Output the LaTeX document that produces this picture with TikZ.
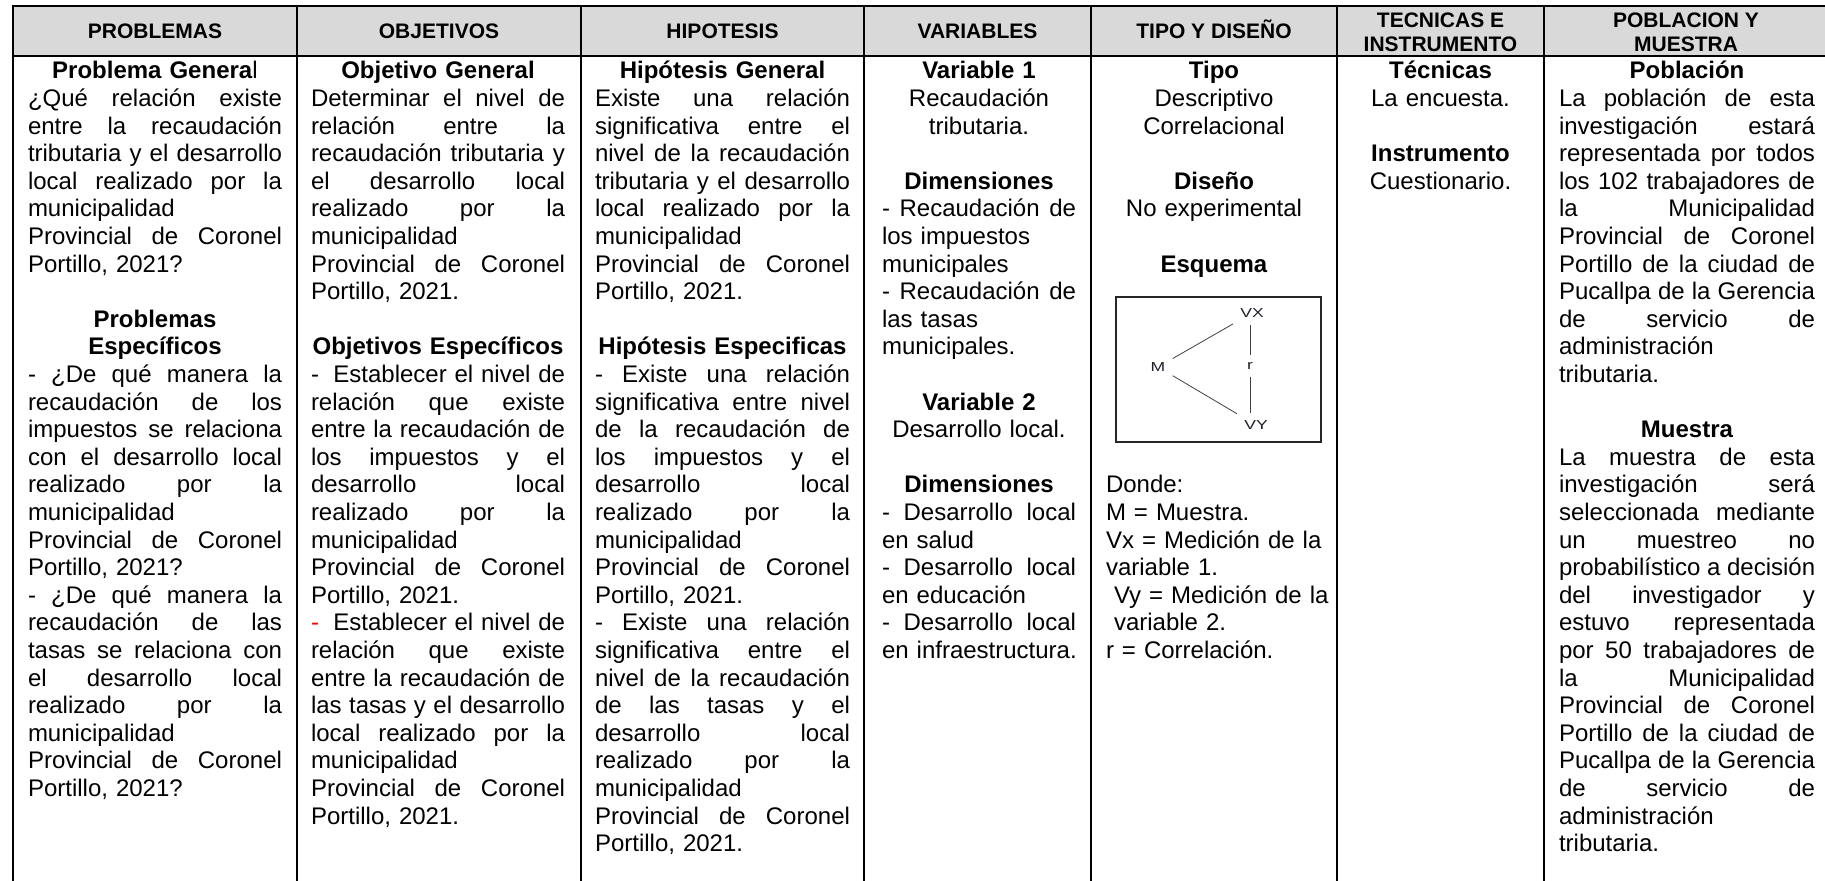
\documentclass[tikz,border=0pt]{standalone}
\usepackage{fontspec}
\setmainfont{Liberation Sans}
\newfontfamily\schemfont{Liberation Sans}[FakeStretch=1.35]
\definecolor{hdrgray}{RGB}{217,217,217}
\definecolor{labcol}{RGB}{30,30,40}
\newcommand\tstr{\rule[-2.3pt]{0pt}{13.8pt}}
\newcommand\Jl[1]{\noindent\hbox to\hsize{\spaceskip=0.2779em plus 1fil\relax\tstr#1}\par}
\newcommand\Ll[1]{\noindent\hbox to\hsize{\tstr#1\hss}\par}
\newcommand\Cl[1]{\noindent\hbox to\hsize{\hss\tstr#1\hss}\par}
\newcommand\Bl{\noindent\hbox to\hsize{\tstr\hss}\par}
\newcommand\bodyfont{\fontsize{12}{13.8}\selectfont\frenchspacing\lineskiplimit=-6pt\hbadness=10000\hfuzz=3pt}
\newcommand\hdrfont{\fontsize{10.5}{12.1}\selectfont\bfseries}
\tikzset{
  tbl/.style={line width=0.8pt, black},
  colbox/.style={anchor=north west, inner sep=0pt, outer sep=0pt, text width=#1, font=\bodyfont},
  hdr/.style={inner sep=0pt, font=\hdrfont},
  hdrtwo/.style={inner sep=0pt, font=\hdrfont, align=center, anchor=center},
  lab/.style={inner sep=3.5pt, text=labcol, font=\schemfont\fontsize{6.5}{7}\selectfont},
  link/.style={line width=0.4pt, black!75},
  esqbox/.style={draw, line width=0.8pt, black!85, minimum width=102.5pt, minimum height=72.5pt, inner sep=0pt}
}
\begin{document}
\begin{tikzpicture}[x=0.5pt, y=-0.5pt]
\useasboundingbox (0,0) rectangle (1825,881);
% header band
\fill[hdrgray] (13,6) rectangle (1835,56);
\draw[tbl] (1835,6) -- (13,6) -- (13,895);
\draw[tbl] (13,56) -- (1835,56);
\foreach \xx in {297,581,864,1091,1337,1544} {\draw[tbl] (\xx,6) -- (\xx,895);}
% header labels
\node[hdr, anchor=base] (h1) at (155,38.5) {PROBLEMAS};
\node[hdr, anchor=base] (h2) at (439,38.5) {OBJETIVOS};
\node[hdr, anchor=base] (h3) at (722.5,38.5) {HIPOTESIS};
\node[hdr, anchor=base] (h4) at (977.5,38.5) {VARIABLES};
\node[hdr, anchor=base] (h5) at (1214,38.5) {TIPO Y DISEÑO};
\node[hdrtwo] (h6) at (1440.5,32.6) {TECNICAS E\\INSTRUMENTO};
\node[hdrtwo] (h7) at (1686,32.6) {POBLACION Y\\MUESTRA};
% column 1
\node[colbox=127pt] (c1) at (28,56) {%
\Cl{\textbf{Problema Genera}l}
\Jl{¿Qué relación existe}
\Jl{entre la recaudación}
\Jl{tributaria y el desarrollo}
\Jl{local realizado por la}
\Ll{municipalidad}
\Jl{Provincial de Coronel}
\Ll{Portillo, 2021?}
\Bl
\Cl{\textbf{Problemas}}
\Cl{\textbf{Específicos}}
\Jl{- ¿De qué manera la}
\Jl{recaudación de los}
\Jl{impuestos se relaciona}
\Jl{con el desarrollo local}
\Jl{realizado por la}
\Ll{municipalidad}
\Jl{Provincial de Coronel}
\Ll{Portillo, 2021?}
\Jl{- ¿De qué manera la}
\Jl{recaudación de las}
\Jl{tasas se relaciona con}
\Jl{el desarrollo local}
\Jl{realizado por la}
\Ll{municipalidad}
\Jl{Provincial de Coronel}
\Ll{Portillo, 2021?}};
% column 2
\node[colbox=127pt] (c2) at (311,56) {%
\Cl{\textbf{Objetivo General}}
\Jl{Determinar el nivel de}
\Jl{relación entre la}
\Jl{recaudación tributaria y}
\Jl{el desarrollo local}
\Jl{realizado por la}
\Ll{municipalidad}
\Jl{Provincial de Coronel}
\Ll{Portillo, 2021.}
\Bl
\Cl{\textbf{Objetivos Específicos}}
\Jl{-\hspace{0.6em}Establecer el nivel de}
\Jl{relación que existe}
\Jl{entre la recaudación de}
\Jl{los impuestos y el}
\Jl{desarrollo local}
\Jl{realizado por la}
\Ll{municipalidad}
\Jl{Provincial de Coronel}
\Ll{Portillo, 2021.}
\Jl{\textcolor{red}{-}\hspace{0.6em}Establecer el nivel de}
\Jl{relación que existe}
\Jl{entre la recaudación de}
\Jl{las tasas y el desarrollo}
\Jl{local realizado por la}
\Ll{municipalidad}
\Jl{Provincial de Coronel}
\Ll{Portillo, 2021.}};
% column 3
\node[colbox=127.5pt] (c3) at (595,56) {%
\Cl{\textbf{Hipótesis General}}
\Jl{Existe una relación}
\Jl{significativa entre el}
\Jl{nivel de la recaudación}
\Jl{tributaria y el desarrollo}
\Jl{local realizado por la}
\Ll{municipalidad}
\Jl{Provincial de Coronel}
\Ll{Portillo, 2021.}
\Bl
\Cl{\textbf{Hipótesis Especificas}}
\Jl{- Existe una relación}
\Jl{significativa entre nivel}
\Jl{de la recaudación de}
\Jl{los impuestos y el}
\Jl{desarrollo local}
\Jl{realizado por la}
\Ll{municipalidad}
\Jl{Provincial de Coronel}
\Ll{Portillo, 2021.}
\Jl{- Existe una relación}
\Jl{significativa entre el}
\Jl{nivel de la recaudación}
\Jl{de las tasas y el}
\Jl{desarrollo local}
\Jl{realizado por la}
\Ll{municipalidad}
\Jl{Provincial de Coronel}
\Ll{Portillo, 2021.}};
% column 4
\node[colbox=97pt] (c4) at (882,56) {%
\Cl{\textbf{Variable 1}}
\Cl{Recaudación}
\Cl{tributaria.}
\Bl
\Cl{\textbf{Dimensiones}}
\Jl{- Recaudación de}
\Ll{los impuestos}
\Ll{municipales}
\Jl{- Recaudación de}
\Ll{las tasas}
\Ll{municipales.}
\Bl
\Cl{\textbf{Variable 2}}
\Cl{Desarrollo local.}
\Bl
\Cl{\textbf{Dimensiones}}
\Jl{- Desarrollo local}
\Ll{en salud}
\Jl{- Desarrollo local}
\Ll{en educación}
\Jl{- Desarrollo local}
\Ll{en infraestructura.}};
% column 5
\node[colbox=108pt] (c5a) at (1106,56) {%
\Cl{\textbf{Tipo}}
\Cl{Descriptivo}
\Cl{Correlacional}
\Bl
\Cl{\textbf{Diseño}}
\Cl{No experimental}
\Bl
\Cl{\textbf{Esquema}}};
\node[colbox=108pt] (c5b) at (1106,470) {%
\Ll{Donde:}
\Ll{M = Muestra.}
\Ll{Vx = Medición de la}
\Ll{variable 1.}
\Ll{\ Vy = Medición de la}
\Ll{\ variable 2.}
\Ll{r = Correlación.}};
% esquema
\node[esqbox] (esq) at (1218.5,369.5) {};
\node[lab] (M) at (1158,367) {M};
\node[lab] (VX) at (1252,313) {VX};
\node[lab] (r) at (1250,366) {r};
\node[lab] (VY) at (1256,425) {VY};
\draw[link] (M) -- (VX);
\draw[link] (M) -- (VY);
\draw[link] (r.north) -- (r.north |- VX.south);
\draw[link] (r.south) -- (r.south |- VY.north);
% column 6
\node[colbox=90pt] (c6) at (1350.5,56) {%
\Cl{\textbf{Técnicas}}
\Cl{La encuesta.}
\Bl
\Cl{\textbf{Instrumento}}
\Cl{Cuestionario.}};
% column 7
\node[colbox=128pt] (c7) at (1559,56) {%
\Cl{\textbf{Población}}
\Jl{La población de esta}
\Jl{investigación estará}
\Jl{representada por todos}
\Jl{los 102 trabajadores de}
\Jl{la Municipalidad}
\Jl{Provincial de Coronel}
\Jl{Portillo de la ciudad de}
\Jl{Pucallpa de la Gerencia}
\Jl{de servicio de}
\Ll{administración}
\Ll{tributaria.}
\Bl
\Cl{\textbf{Muestra}}
\Jl{La muestra de esta}
\Jl{investigación será}
\Jl{seleccionada mediante}
\Jl{un muestreo no}
\Jl{probabilístico a decisión}
\Jl{del investigador y}
\Jl{estuvo representada}
\Jl{por 50 trabajadores de}
\Jl{la Municipalidad}
\Jl{Provincial de Coronel}
\Jl{Portillo de la ciudad de}
\Jl{Pucallpa de la Gerencia}
\Jl{de servicio de}
\Ll{administración}
\Ll{tributaria.}};
\end{tikzpicture}
\end{document}
